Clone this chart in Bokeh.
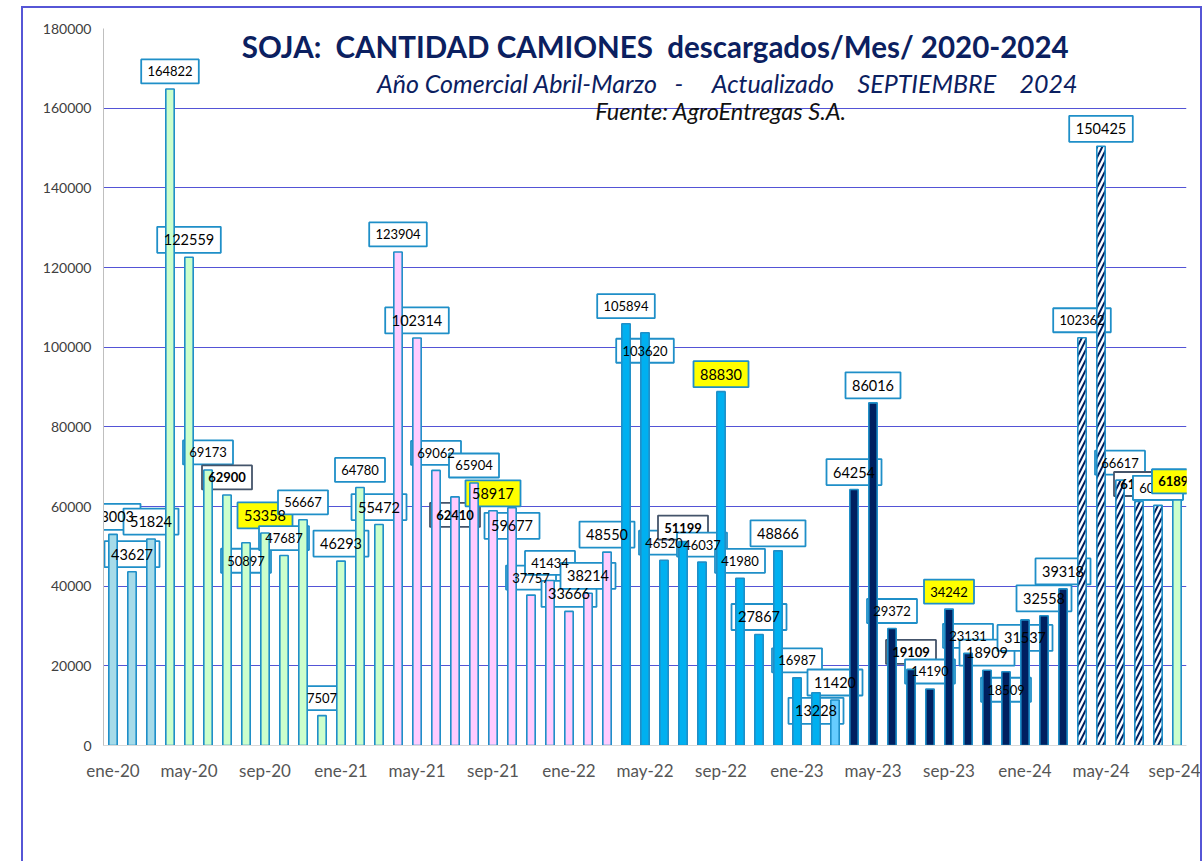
from bokeh.plotting import figure
from bokeh.models import ColumnDataSource, Label, Range1d, FixedTicker, BasicTickFormatter
from bokeh.core.properties import value
from bokeh.embed import file_html
from bokeh.resources import INLINE

# ---------------- data ----------------
meses_abrev = ["ene", "feb", "mar", "abr", "may", "jun", "jul", "ago", "sep", "oct", "nov", "dic"]
anios = ["20", "21", "22", "23", "24"]

ene_mar_2020 = [53003, 43627, 51824]
campana_2020_21 = [164822, 122559, 69173, 62900, 50897, 53358, 47687, 56667, 7507, 46293, 64780, 55472]
campana_2021_22 = [123904, 102314, 69062, 62410, 65904, 58917, 59677, 37757, 41434, 33666, 38214, 48550]
campana_2022_23 = [105894, 103620, 46520, 51199, 46037, 88830, 41980, 27867, 48866, 16987, 13228, 11420]
campana_2023_24 = [64254, 86016, 29372, 19109, 14190, 34242, 23131, 18909, 18509, 31537, 32558, 39318]
campana_2024_25 = [102362, 150425, 66617, 61250, 60290, 61897]

campanas = [ene_mar_2020, campana_2020_21, campana_2021_22, campana_2022_23, campana_2023_24, campana_2024_25]
colores_campana = ["#a6dbe9", "#ccffcc", "#ffccff", "#00b0f0", "#002060", "#ffffff"]

etiquetas_mes = [f"{m}-{a}" for a in anios for m in meses_abrev]

valores, colores, rayado = [], [], []
for c, col in zip(campanas, colores_campana):
    valores += c
    colores += [col] * len(c)
    rayado += [col == "#ffffff"] * len(c)
n = len(valores)
x = list(range(n))

colores[38] = "#66ccff"          # mar-23
colores[56] = "#ccffcc"          # sep-24
rayado[56] = False

# ---------------- layout constants ----------------
Y_MAX = 180000
FRAME_H = 717
PX = Y_MAX / FRAME_H            # data units per screen pixel

# label styles
grandes = {0, 1, 2, 4, 8, 12, 14, 16, 20, 21, 24, 25, 26, 32, 34, 35, 37, 38, 39, 40, 46, 48, 49, 50, 52}
negritas = {6, 18, 30, 42, 54, 56}
amarillas = {8, 20, 32, 44, 56}
debajo = {7, 18, 21, 28, 37, 47, 48}

def desplazamiento(i):
    if i in debajo:
        return -18.0
    if i == 30:
        return 14.0
    return 17.5

textos = [str(v) for v in valores]
y_lab = [valores[i] + desplazamiento(i) * PX for i in range(n)]
ancho = [len(textos[i]) * (8.6 if i in grandes else 7.6) + 12 for i in range(n)]
alto = [26 if i in grandes else 24 for i in range(n)]
tam = ["14.5px" if i in grandes else "13px" for i in range(n)]
estilo = ["bold" if i in negritas else "normal" for i in range(n)]
fondo = ["#ffff00" if i in amarillas else "#ffffff" for i in range(n)]
borde = ["#44546a" if (i in negritas and i not in amarillas) else "#1f8fc8" for i in range(n)]

lab_data = dict(x=x, y=y_lab, text=textos, w=ancho, h=alto, size=tam, style=estilo, bg=fondo, border=borde)

def subset(idx):
    return ColumnDataSource({k: [v[i] for i in idx] for k, v in lab_data.items()})

lab = subset(range(n))

solid = ColumnDataSource(dict(
    x=[x[i] for i in range(n) if not rayado[i]],
    top=[valores[i] for i in range(n) if not rayado[i]],
    fill=[colores[i] for i in range(n) if not rayado[i]],
))
hatch = ColumnDataSource(dict(
    x=[x[i] for i in range(n) if rayado[i]],
    top=[valores[i] for i in range(n) if rayado[i]],
))

# ---------------- figure ----------------
p = figure(width=1177, height=853, x_range=Range1d(-0.5, n - 0.5), y_range=Range1d(0, Y_MAX),
           output_backend="svg", toolbar_location=None,
           min_border_left=80, min_border_right=14, min_border_top=20, min_border_bottom=116)
p.margin = (8, 0, 0, 23)
p.styles = {"outline": "2px solid #5656d6"}
p.outline_line_color = None
p.background_fill_color = "white"
p.border_fill_color = "white"

p.xgrid.visible = False
p.ygrid.grid_line_color = "#5454d6"
p.ygrid.grid_line_width = 1
p.yaxis.ticker = FixedTicker(ticks=list(range(0, Y_MAX + 1, 20000)))
p.yaxis.formatter = BasicTickFormatter(use_scientific=False)
p.yaxis.axis_line_color = "#bfbfbf"
p.yaxis.major_tick_line_color = None
p.yaxis.minor_tick_line_color = None
p.yaxis.major_label_text_font = "Lato"
p.yaxis.major_label_text_font_size = "14px"
p.yaxis.major_label_text_color = "#404040"
p.yaxis.major_label_standoff = 6

p.xaxis.ticker = FixedTicker(ticks=list(range(0, n, 4)))
p.xaxis.major_label_overrides = {i: etiquetas_mes[i] for i in range(0, n, 4)}
p.xaxis.axis_line_color = "#d9d9d9"
p.xaxis.major_tick_line_color = None
p.xaxis.minor_tick_line_color = None
p.xaxis.major_label_text_font = "Lato"
p.xaxis.major_label_text_font_size = "17px"
p.xaxis.major_label_text_color = "#555555"
p.xaxis.major_label_standoff = 8

# label boxes (below the bars)
p.rect(x="x", y="y", width="w", height="h", width_units="screen", height_units="screen",
       fill_color="bg", line_color="border", line_width=1.8, source=lab)

# bars
p.vbar(x="x", top="top", width=0.44, fill_color="fill", line_color="#1f8fc8", line_width=1.6, source=solid)
p.vbar(x="x", top="top", width=0.44, fill_color="white", line_color="#1f8fc8", line_width=1.6,
       hatch_pattern="/", hatch_color="#002060", hatch_weight=2.0, hatch_scale=10, source=hatch)

# label texts (over the bars)
def textos_glifo(src):
    p.text(x="x", y="y", text="text", source=src, text_align="center", text_baseline="middle",
           text_font=value("Lato"), text_font_size="size", text_font_style="style", text_color="black")

textos_glifo(lab)
# crowded labels drawn again so that each hides the previous one, as in the original
for i in (55, 56):
    s = subset([i])
    p.rect(x="x", y="y", width="w", height="h", width_units="screen", height_units="screen",
           fill_color="bg", line_color="border", line_width=1.8, source=s)
    textos_glifo(s)

# titles
nb = "\u00a0"
p.add_layout(Label(x=50.3, y=175500, text=f"SOJA:{nb}{nb}CANTIDAD CAMIONES{nb}{nb}descargados/Mes/ 2020-2024",
                   text_align="right", text_baseline="middle", text_font="Lato",
                   text_font_size="29.5px", text_font_style="bold", text_color="#0b2060"))
p.add_layout(Label(x=50.8, y=166400,
                   text=f"Año Comercial Abril-Marzo{nb*3}-{nb*5}Actualizado{nb*4}SEPTIEMBRE{nb*4}2024",
                   text_align="right", text_baseline="middle", text_font="Lato",
                   text_font_size="25px", text_font_style="italic", text_color="#0b2060"))
p.add_layout(Label(x=32.0, y=159200, text="Fuente: AgroEntregas S.A.",
                   text_align="center", text_baseline="middle", text_font="Lato",
                   text_font_size="23.5px", text_font_style="italic", text_color="#111111"))

open("out.html", "w").write(file_html(p, INLINE))
